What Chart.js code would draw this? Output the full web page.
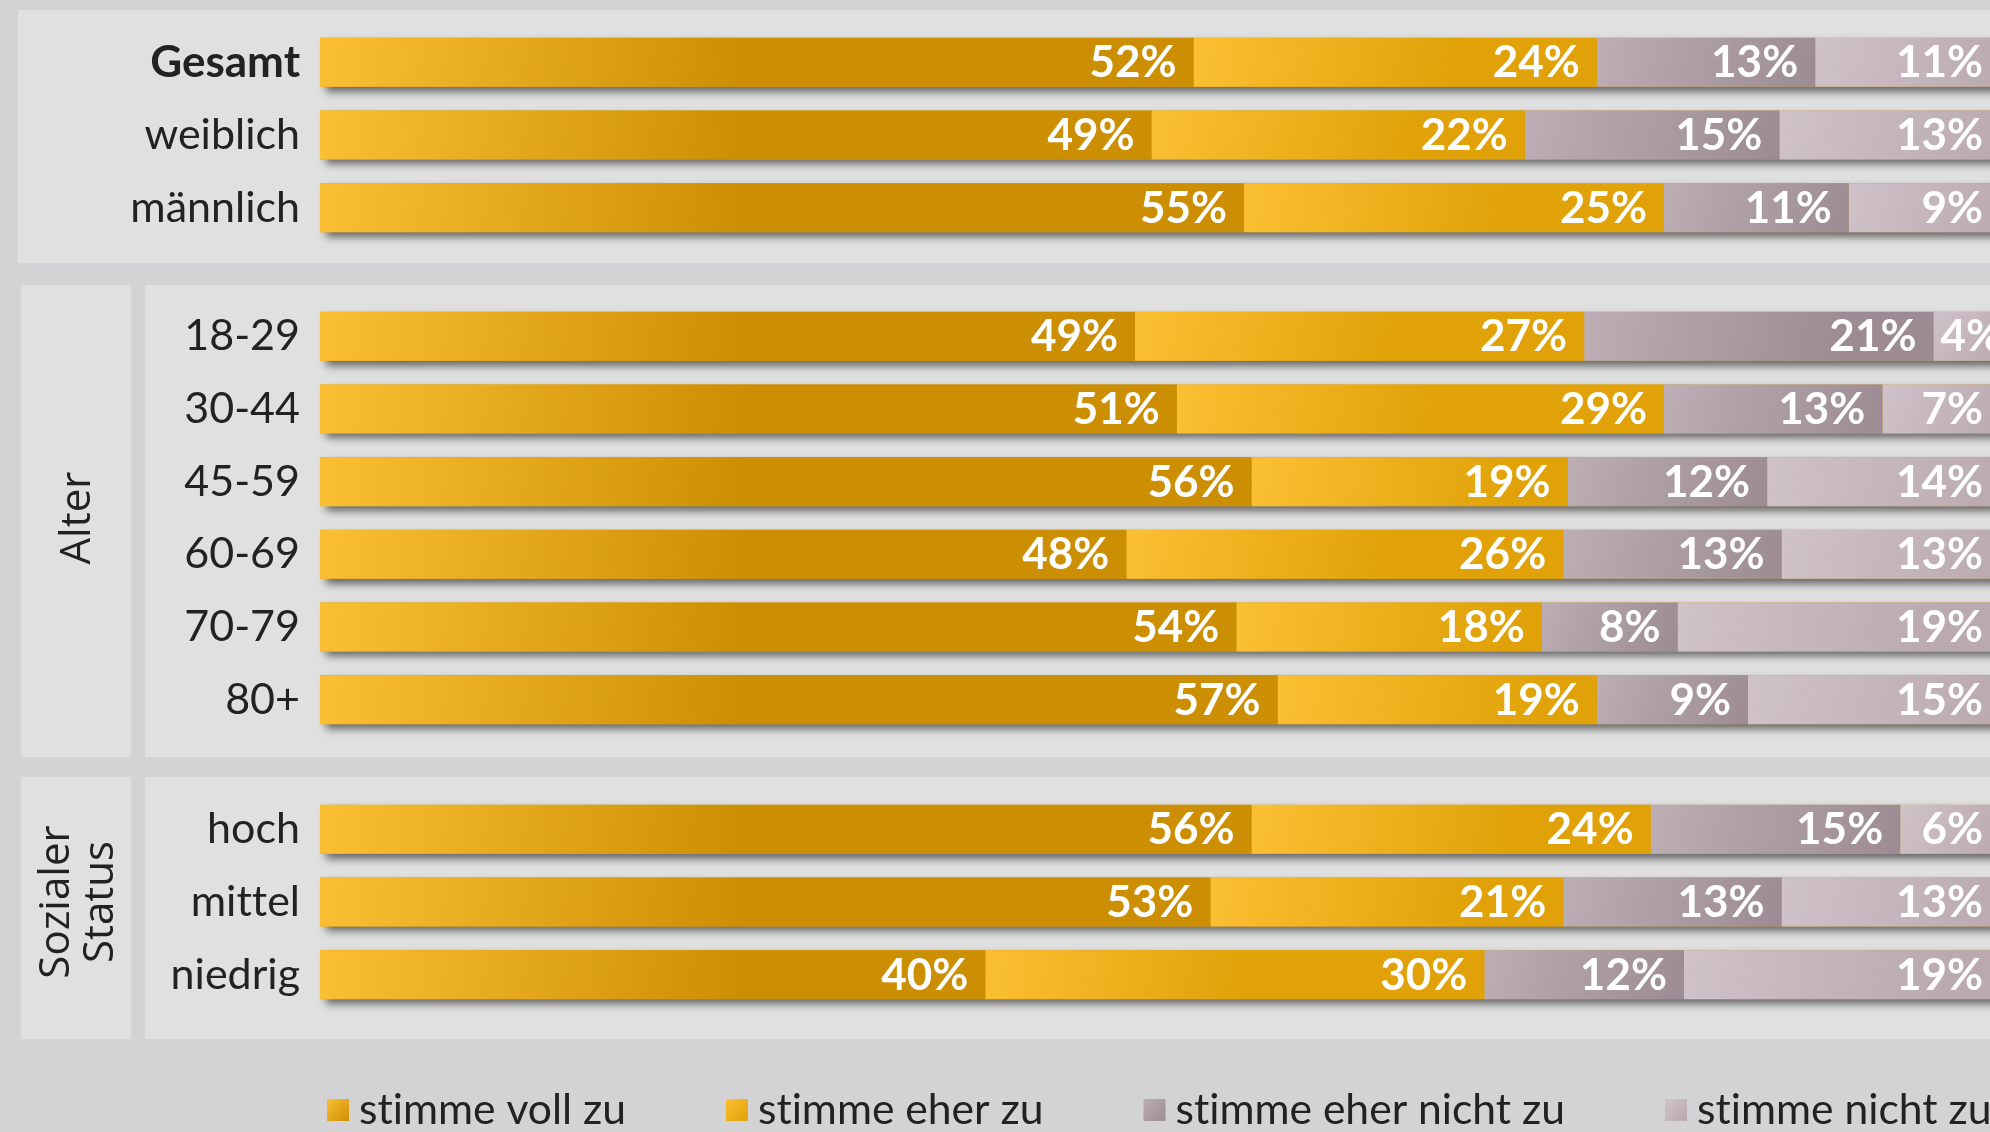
<!DOCTYPE html>
<html lang="de">
<head>
<meta charset="utf-8">
<title>Zustimmung nach Geschlecht, Alter und sozialem Status</title>
<script src="https://cdn.jsdelivr.net/npm/chart.js@4.4.1/dist/chart.umd.min.js"></script>
<style>
  html, body { margin: 0; padding: 0; overflow: hidden; }
  body { width: 1990px; height: 1132px; background: #d3d3d5; position: relative; }
  .panel { position: absolute; background: #e0e0e0; }
  .wrap { position: absolute; }
  canvas { display: block; }
</style>
</head>
<body>
<div class="panel" style="left:18px;top:10px;width:1990px;height:253px"></div>
<div class="panel" style="left:21px;top:285px;width:110px;height:472px"></div>
<div class="panel" style="left:145px;top:285px;width:1860px;height:472px"></div>
<div class="panel" style="left:21px;top:777px;width:110px;height:262px"></div>
<div class="panel" style="left:145px;top:777px;width:1860px;height:262px"></div>

<div class="wrap" style="left:18px;top:10px"><canvas id="c-geschlecht" width="1982" height="253"></canvas></div>
<div class="wrap" style="left:21px;top:285px"><canvas id="c-alter" width="1979" height="472"></canvas></div>
<div class="wrap" style="left:21px;top:777px"><canvas id="c-status" width="1979" height="355"></canvas></div>

<script>
// ------------------------------------------------------------
// data
// ------------------------------------------------------------
const answers = ['stimme voll zu', 'stimme eher zu', 'stimme eher nicht zu', 'stimme nicht zu'];

const geschlechtLabels = ['Gesamt', 'weiblich', 'männlich'];
const geschlechtVoll      = [52, 49, 55];
const geschlechtEher      = [24, 22, 25];
const geschlechtEherNicht = [13, 15, 11];
const geschlechtNicht     = [11, 13, 9];

const alterLabels = ['18-29', '30-44', '45-59', '60-69', '70-79', '80+'];
const alterVoll      = [49, 51, 56, 48, 54, 57];
const alterEher      = [27, 29, 19, 26, 18, 19];
const alterEherNicht = [21, 13, 12, 13, 8, 9];
const alterNicht     = [4, 7, 14, 13, 19, 15];

const statusLabels = ['hoch', 'mittel', 'niedrig'];
const statusVoll      = [56, 53, 40];
const statusEher      = [24, 21, 30];
const statusEherNicht = [15, 13, 12];
const statusNicht     = [6, 13, 19];

// light -> dark end of each answer's gradient
const palette = [
  ['#fbbf33', '#cc8f03'],
  ['#fbbf33', '#e0a208'],
  ['#bcaeb4', '#9c8b92'],
  ['#cfc2c8', '#baaab0']
];
const gradLength = [420, 260, 260, 260];

// ------------------------------------------------------------
// helpers / plugins
// ------------------------------------------------------------

// diagonal gradient per segment, light at the segment start
function segmentFill(d) {
  return c => {
    const chart = c.chart;
    if (!chart.chartArea || !chart.scales.x) return palette[d][1];
    const i = c.dataIndex;
    let start = 0;
    for (let k = 0; k < d; k++) start += chart.data.datasets[k].data[i];
    const x0 = chart.scales.x.getPixelForValue(start);
    const x1 = chart.scales.x.getPixelForValue(start + chart.data.datasets[d].data[i]);
    const yc = chart.scales.y.getPixelForValue(i);
    const len = Math.max(1, Math.min(x1 - x0, gradLength[d]));
    const g = chart.ctx.createLinearGradient(x0, yc - 25, x0 + len, yc + 25);
    g.addColorStop(0, palette[d][0]);
    g.addColorStop(1, palette[d][1]);
    return g;
  };
}

// every row is stretched to 100 %, labels keep the rounded survey value
function buildDatasets(series) {
  const totals = series[0].map((_, i) => series.reduce((s, arr) => s + arr[i], 0));
  return series.map((arr, d) => ({
    label: answers[d],
    raw: arr,
    data: arr.map((v, i) => v / totals[i] * 100),
    backgroundColor: segmentFill(d),
    borderWidth: 0,
    borderSkipped: false,
    barPercentage: 0.674,
    categoryPercentage: 1,
    clip: false
  }));
}

// plain glyphs, no "tt"/"ti" ligatures in the labels
const plainText = {
  id: 'plainText',
  beforeDraw(chart) {
    chart.ctx.textRendering = 'optimizeSpeed';
  }
};

// one soft shadow per row, underneath the stacked segments
const rowShadow = {
  id: 'rowShadow',
  beforeDatasetsDraw(chart) {
    const ctx = chart.ctx;
    const first = chart.getDatasetMeta(0).data;
    const last = chart.getDatasetMeta(chart.data.datasets.length - 1).data;
    ctx.save();
    ctx.shadowColor = 'rgba(0,0,0,0.55)';
    ctx.shadowBlur = 8;
    ctx.shadowOffsetX = 6;
    ctx.shadowOffsetY = 5;
    ctx.fillStyle = '#cc9a20';
    first.forEach((bar, i) => {
      const end = last[i];
      ctx.fillRect(bar.base, bar.y - bar.height / 2, end.x - bar.base, bar.height);
    });
    ctx.restore();
  }
};

// white percentage at the right end of each segment
const segmentLabels = {
  id: 'segmentLabels',
  afterDatasetsDraw(chart) {
    const ctx = chart.ctx;
    ctx.save();
    ctx.font = 'bold 44px Lato';
    ctx.fillStyle = '#ffffff';
    ctx.textAlign = 'right';
    ctx.textBaseline = 'alphabetic';
    chart.data.datasets.forEach((ds, d) => {
      chart.getDatasetMeta(d).data.forEach((bar, i) => {
        const text = ds.raw[i] + '%';
        const w = ctx.measureText(text).width;
        const right = Math.max(bar.x - 17, bar.base + 7 + w);
        ctx.fillText(text, right, bar.y + 15);
      });
    });
    ctx.restore();
  }
};

// legend row below the last panel
const legendRow = {
  id: 'legendRow',
  afterDraw(chart, args, opts) {
    if (!opts.show) return;
    const ctx = chart.ctx;
    ctx.save();
    ctx.font = '42.6px Lato';
    ctx.textBaseline = 'alphabetic';
    ctx.textAlign = 'left';
    let x = opts.x;
    chart.data.datasets.forEach((ds, d) => {
      const g = ctx.createLinearGradient(x, opts.y, x + opts.box, opts.y + opts.box);
      g.addColorStop(0, palette[d][0]);
      g.addColorStop(1, palette[d][1]);
      ctx.fillStyle = g;
      ctx.fillRect(x, opts.y, opts.box, opts.box);
      x += opts.box + opts.gap;
      ctx.fillStyle = '#222222';
      ctx.fillText(ds.label, x, opts.baseline);
      x += ctx.measureText(ds.label).width + opts.spacing;
    });
    ctx.restore();
  }
};

function makeChart(id, labels, series, o) {
  return new Chart(document.getElementById(id), {
    type: 'bar',
    data: { labels: labels, datasets: buildDatasets(series) },
    plugins: [plainText, rowShadow, segmentLabels, legendRow],
    options: {
      indexAxis: 'y',
      responsive: false,
      animation: false,
      layout: { padding: { top: o.padTop, bottom: o.padBottom, left: 0, right: 0 } },
      plugins: {
        legend: { display: false },
        tooltip: { enabled: false },
        legendRow: o.legend || { show: false }
      },
      scales: {
        x: { stacked: true, min: 0, max: 100, display: false },
        y: {
          stacked: true,
          grid: { display: false, drawTicks: false },
          border: { display: false },
          // fixed label column; rows use the full height of the area
          afterFit: s => { s.width = o.axisWidth; s.paddingTop = 0; s.paddingBottom = 0; },
          ticks: {
            color: '#222222',
            padding: 20,
            font: o.tickFont || { family: 'Lato', size: 43 }
          },
          title: o.title || { display: false }
        }
      }
    }
  });
}

makeChart('c-geschlecht', geschlechtLabels,
  [geschlechtVoll, geschlechtEher, geschlechtEherNicht, geschlechtNicht],
  {
    padTop: 16, padBottom: 19, axisWidth: 302,
    tickFont: c => c.index === 0
      ? { family: 'Lato', size: 44, weight: 'bold' }
      : { family: 'Lato', size: 43, weight: 'normal' }
  });

makeChart('c-alter', alterLabels,
  [alterVoll, alterEher, alterEherNicht, alterNicht],
  {
    padTop: 15, padBottom: 21, axisWidth: 299,
    title: { display: true, text: 'Alter', color: '#222222',
             font: { family: 'Open Sans', size: 42, lineHeight: 1.05 }, padding: { top: 35, bottom: 0 } }
  });

makeChart('c-status', statusLabels,
  [statusVoll, statusEher, statusEherNicht, statusNicht],
  {
    padTop: 16, padBottom: 121, axisWidth: 299,
    title: { display: true, text: ['Sozialer', 'Status'], color: '#222222',
             font: { family: 'Open Sans', size: 42, lineHeight: 1.05 }, padding: { top: 14, bottom: 0 } },
    legend: { show: true, x: 306, y: 322, box: 22, gap: 10, baseline: 347, spacing: 100 }
  });
</script>
</body>
</html>
